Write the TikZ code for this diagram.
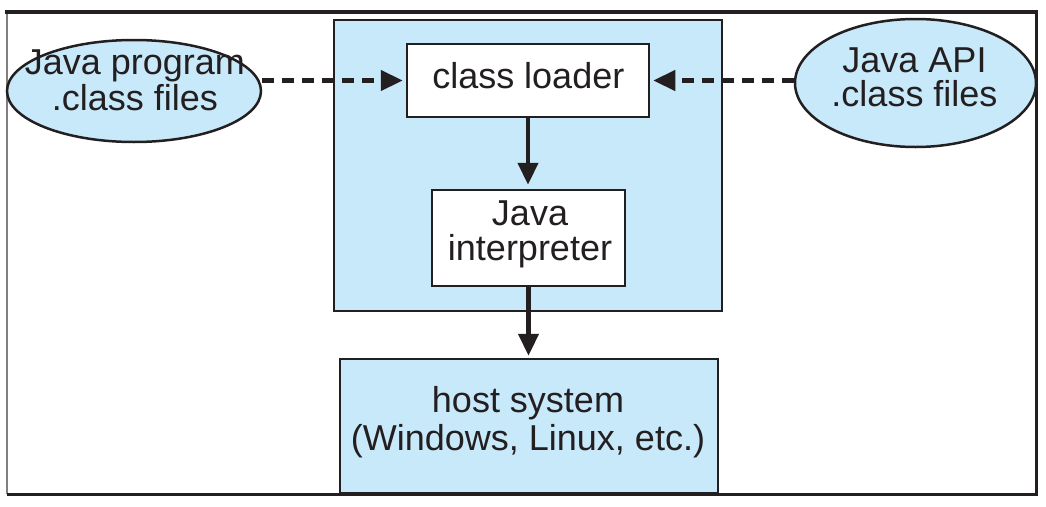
\documentclass[tikz,border=0pt]{standalone}
\usepackage{fontspec}
\setmainfont{Liberation Sans}
\usetikzlibrary{arrows.meta,shapes.geometric}
\definecolor{jblue}{RGB}{200,233,250}
\definecolor{ink}{RGB}{35,31,32}
\begin{document}
\begin{tikzpicture}[x=1pt,y=-1pt,
  every node/.style={text=ink, align=center, inner sep=0pt},
  label36/.style={font=\fontsize{36}{#1}\selectfont},
  whitebox/.style={draw=ink, line width=2.5pt, fill=white},
  bluebox/.style={draw=ink, line width=2.5pt, fill=jblue},
  oval/.style={ellipse, draw=ink, line width=2.5pt, fill=jblue},
  flow/.style={draw=ink, line width=4.5pt, -{Triangle[length=22pt,width=20pt]}},
  dflow/.style={flow, dash pattern=on 12pt off 8pt},
]
\useasboundingbox (0,0) rectangle (1046,506);
% frame
\draw[gray, line width=1.3pt] (7,12) -- (7,494);
\draw[ink, line width=4pt] (5,12) -- (1038,12);
\draw[ink, line width=3pt] (7,494) -- (1038,494);
\draw[ink, line width=3pt] (1036,12) -- (1036,494);
% JVM region
\node[bluebox, minimum width=388pt, minimum height=291pt] (jvm) at (528,165.5) {};
% ellipses
\node[oval, minimum width=254pt, minimum height=102pt] (lp) at (134,91) {};
\node[label36=36] (lpt) at (135,80.4) {Java program\\.class files};
\node[oval, minimum width=241pt, minimum height=128pt] (rp) at (915.5,83) {};
\node[label36=34.5] (rpt) at (914.5,77.3) {Java API\\.class files};
% boxes
\node[whitebox, minimum width=242pt, minimum height=73pt] (cl) at (528,80.5) {};
\node[label36=36] (clt) at (528.3,75.4) {class loader};
\node[whitebox, minimum width=193pt, minimum height=96pt] (ji) at (528.5,238) {};
\node[label36=35] (jit) at (530,234.1) {Java\\interpreter};
\node[bluebox, minimum width=378pt, minimum height=134pt] (hs) at (529,426) {};
\node[label36=38] (hst) at (528,421.9) {host system\\(Windows, Linux, etc.)};
% connectors
\draw[dflow, shorten >=3pt] (lp.east |- cl.west) -- (cl.west);
\draw[dflow, shorten >=3pt] (rp.west |- cl.east) -- (cl.east);
\draw[flow, shorten >=4pt] (cl.south) -- (cl.south |- ji.north);
\draw[flow, shorten >=2pt] (ji.south) -- (ji.south |- hs.north);
\end{tikzpicture}
\end{document}
